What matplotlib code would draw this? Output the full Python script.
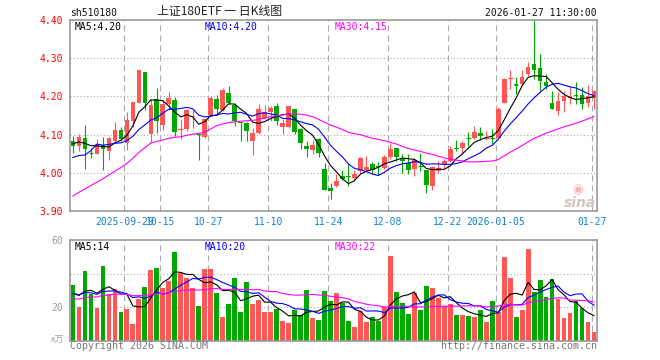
import numpy as np
import pandas as pd
import matplotlib
matplotlib.use("Agg")
import matplotlib.pyplot as plt

# ---------------- data ----------------
date_idx = [9, 15, 23, 33, 43, 53, 63, 71, 87]
date_labels = ['2025-09-29', '10-15', '10-27', '11-10', '11-24',
               '12-08', '12-22', '2026-01-05', '01-27']

open_ = [4.083, 4.070, 4.092, 4.053, 4.048, 4.074, 4.057, 4.082, 4.112, 4.078,
         4.136, 4.184, 4.263, 4.101, 4.193, 4.125, 4.180, 4.191, 4.112, 4.114,
         4.145, 4.102, 4.095, 4.151, 4.193, 4.165, 4.209, 4.177, 4.133, 4.130,
         4.083, 4.104, 4.144, 4.158, 4.174, 4.121, 4.121, 4.167, 4.114, 4.070,
         4.060, 4.088, 4.009, 3.959, 3.965, 3.991, 3.991, 3.987, 4.004, 4.007,
         4.022, 4.019, 4.013, 4.042, 4.064, 4.035, 4.026, 4.009, 4.019, 4.007,
         3.965, 4.004, 4.022, 4.031, 4.066, 4.066, 4.092, 4.092, 4.104, 4.090,
         4.092, 4.092, 4.184, 4.246, 4.232, 4.232, 4.259, 4.285, 4.274, 4.237,
         4.182, 4.162, 4.189, 4.197, 4.204, 4.204, 4.182, 4.197]
high = [4.096, 4.101, 4.125, 4.065, 4.088, 4.095, 4.095, 4.133, 4.120, 4.158,
        4.186, 4.270, 4.263, 4.193, 4.221, 4.191, 4.212, 4.199, 4.140, 4.167,
        4.165, 4.102, 4.140, 4.202, 4.204, 4.221, 4.226, 4.184, 4.133, 4.133,
        4.116, 4.180, 4.177, 4.175, 4.182, 4.140, 4.174, 4.167, 4.116, 4.083,
        4.086, 4.090, 4.025, 3.974, 3.996, 4.007, 4.022, 4.007, 4.042, 4.044,
        4.028, 4.028, 4.046, 4.077, 4.064, 4.048, 4.048, 4.040, 4.051, 4.007,
        4.018, 4.031, 4.035, 4.070, 4.086, 4.083, 4.107, 4.123, 4.121, 4.110,
        4.114, 4.171, 4.247, 4.268, 4.250, 4.270, 4.291, 4.400, 4.311, 4.259,
        4.215, 4.212, 4.215, 4.226, 4.237, 4.224, 4.230, 4.218]
low = [4.051, 4.057, 4.009, 4.038, 4.048, 4.007, 4.033, 4.079, 4.083, 4.059,
       4.121, 4.182, 4.165, 4.077, 4.105, 4.112, 4.165, 4.097, 4.088, 4.110,
       4.118, 4.033, 4.092, 4.149, 4.151, 4.162, 4.180, 4.123, 4.083, 4.083,
       4.046, 4.101, 4.140, 4.136, 4.125, 4.101, 4.116, 4.101, 4.061, 4.042,
       4.048, 4.042, 3.954, 3.932, 3.963, 3.981, 3.965, 3.981, 3.998, 4.004,
       3.996, 3.993, 4.011, 4.035, 4.031, 4.000, 3.998, 3.991, 4.004, 3.947,
       3.954, 4.000, 4.013, 4.028, 4.057, 4.051, 4.070, 4.088, 4.086, 4.086,
       4.075, 4.090, 4.182, 4.219, 4.206, 4.230, 4.254, 4.246, 4.215, 4.219,
       4.167, 4.151, 4.160, 4.180, 4.180, 4.167, 4.171, 4.167]
close_ = [4.070, 4.094, 4.061, 4.051, 4.076, 4.061, 4.090, 4.112, 4.088, 4.139,
          4.186, 4.268, 4.184, 4.177, 4.136, 4.179, 4.196, 4.107, 4.114, 4.165,
          4.149, 4.101, 4.140, 4.196, 4.167, 4.218, 4.182, 4.136, 4.130, 4.110,
          4.104, 4.167, 4.160, 4.169, 4.136, 4.130, 4.174, 4.107, 4.077, 4.063,
          4.072, 4.053, 3.956, 3.952, 3.978, 3.983, 3.988, 3.996, 4.038, 4.015,
          4.007, 4.016, 4.042, 4.061, 4.042, 4.032, 4.007, 4.033, 4.018, 3.967,
          4.016, 4.013, 4.031, 4.063, 4.061, 4.077, 4.090, 4.107, 4.097, 4.092,
          4.090, 4.167, 4.246, 4.247, 4.230, 4.250, 4.276, 4.268, 4.241, 4.226,
          4.168, 4.189, 4.202, 4.200, 4.200, 4.180, 4.200, 4.215]
volume = [33.1, 20.2, 41.5, 27.8, 19.6, 44.5, 27.8, 30.7, 17.0, 18.8,
          10.0, 24.8, 32.1, 42.3, 43.5, 31.5, 35.5, 53.0, 40.1, 37.7,
          31.3, 20.8, 42.9, 42.9, 28.8, 14.2, 21.8, 37.5, 17.2, 34.9,
          21.8, 24.6, 17.0, 17.0, 18.8, 11.6, 10.4, 18.2, 15.4, 30.1,
          13.4, 12.2, 29.6, 23.6, 28.4, 22.4, 11.6, 8.1, 17.6, 11.0,
          14.0, 11.8, 20.0, 50.4, 29.0, 22.4, 15.8, 28.4, 18.2, 32.5,
          31.3, 25.4, 20.6, 21.8, 15.2, 15.2, 14.6, 14.0, 18.2, 11.0,
          23.6, 17.0, 49.9, 37.3, 14.0, 18.2, 54.6, 29.0, 36.1, 26.0,
          36.7, 24.8, 13.4, 16.4, 23.6, 19.4, 11.0, 5.1]
# sessions before the visible window (estimated from where the MA lines start)
prior_close = [3.79, 3.80, 3.78, 3.81, 3.80, 3.79, 3.82, 3.80, 3.81, 3.79,
               3.80, 3.82, 3.80, 4.03, 4.06, 4.05, 4.04, 4.07, 4.05, 4.06,
               4.04, 4.05, 3.93, 3.91, 4.09, 4.07, 4.08, 4.08, 4.08]
prior_volume = [16, 19, 15, 18, 17, 20, 16, 18, 25, 29,
                27, 24, 30, 26, 28, 25, 27, 29, 26, 27,
                27, 30, 28, 29, 27, 26, 29, 25, 28]

ma_labels = ['MA5:4.20', 'MA10:4.20', 'MA30:4.15']
vma_labels = ['MA5:14', 'MA10:20', 'MA30:22']

# ---------------- derived ----------------
n = len(close_)
x = np.arange(n)
k = len(prior_close)
cs = pd.Series(prior_close + close_)
vs = pd.Series(prior_volume + volume)
ma = {w: cs.rolling(w).mean().to_numpy()[k:] for w in (5, 10, 30)}
vma = {w: vs.rolling(w).mean().to_numpy()[k:] for w in (5, 10, 30)}

o = np.array(open_); c = np.array(close_)
h = np.array(high); l = np.array(low); v = np.array(volume)
RED, GREEN = '#ff5656', '#00a800'
cols = np.where(c >= o, RED, GREEN)
MA_COLS = ['#000000', '#0000ff', '#ff00ff']
MONO = ['DejaVu Sans Mono', 'Noto Sans CJK SC']
CJK = ['Noto Sans CJK SC', 'DejaVu Sans']
GRID = '#aaaaaa'
FRAME = '#9a9a9a'

W, H = 660, 360
fig = plt.figure(figsize=(6.6, 3.6), dpi=100)
fig.patch.set_facecolor('white')


def rect(lf, tp, rt, bt):
    return [lf / W, 1 - bt / H, (rt - lf) / W, (bt - tp) / H]


def T(px, py, s, **kw):
    kw.setdefault('va', 'center')
    kw.setdefault('family', MONO)
    kw.setdefault('fontsize', 7)
    fig.text(px / W, 1 - py / H, s, **kw)


axp = fig.add_axes(rect(70, 20, 597, 211))
axv = fig.add_axes(rect(70, 240, 597, 341))
grid_x = [i - 0.4 for i in date_idx]

for ax in (axp, axv):
    ax.set_xlim(-0.5, n - 0.5)
    for s in ax.spines.values():
        s.set_color(FRAME)
        s.set_linewidth(1.2)
    for gx in grid_x:
        ax.axvline(gx, color=GRID, lw=0.8, ls=(0, (5.5, 3.5)), zorder=0.5)

# ---- price panel ----
axp.set_ylim(3.90, 4.40)
for gy in (4.0, 4.1, 4.2, 4.3):
    axp.axhline(gy, color=GRID, lw=0.8, ls=(0, (1, 2)), zorder=0.5)
axp.vlines(x, l, h, colors=cols, linewidth=0.8, zorder=2)
body = np.abs(c - o)
axp.bar(x, body, bottom=np.minimum(o, c), width=0.78, color=cols,
        linewidth=0, zorder=2.1)
doji = body < 0.002
axp.hlines(c[doji], x[doji] - 0.39, x[doji] + 0.39, colors=cols[doji],
           linewidth=0.9, zorder=2.1)
for w, col in zip((5, 10, 30), MA_COLS):
    axp.plot(x, ma[w], color=col, lw=0.8, zorder=3)

yt = [3.90, 4.00, 4.10, 4.20, 4.30, 4.40]
axp.set_yticks(yt)
axp.set_yticklabels(['%.2f' % t for t in yt])
axp.tick_params(axis='y', length=0, pad=5, labelcolor='#ff0000', labelsize=7)
axp.set_xticks(grid_x)
axp.set_xticklabels(date_labels)
axp.tick_params(axis='x', length=0, pad=4, labelcolor='#1181d2', labelsize=7)
for lab in axp.get_xticklabels() + axp.get_yticklabels():
    lab.set_family(MONO)

# ---- volume panel ----
axv.set_ylim(0, 60)
for gy in (20, 40):
    axv.axhline(gy, color=GRID, lw=0.8, ls=(0, (1, 2)), zorder=0.5)
axv.bar(x, v, width=0.8, color=cols, linewidth=0, zorder=2)
for w, col in zip((5, 10, 30), MA_COLS):
    axv.plot(x, vma[w], color=col, lw=0.8, zorder=3)
axv.set_xticks([])
axv.set_yticks([20, 60])
axv.set_yticklabels(['20', '60'])
axv.tick_params(axis='y', length=0, pad=5, labelcolor='#a0a0a0', labelsize=7)
for lab in axv.get_yticklabels():
    lab.set_family(MONO)

# ---- texts ----
T(70, 13, 'sh510180', color='#111111')
T(220, 12, '上证180ETF 一 日K线图', ha='center', family=CJK, fontsize=8.6,
  color='#222222')
T(597, 13, '2026-01-27 11:30:00', ha='right', color='#111111')
for px, s, col in zip((75, 205, 335), ma_labels, MA_COLS):
    T(px, 26.5, s, color=col)
for px, s, col in zip((75, 205, 335), vma_labels, MA_COLS):
    T(px, 247, s, color=col)
T(64, 340, 'x万', ha='right', family=CJK, fontsize=6.5, color='#a0a0a0')
T(70, 346, 'Copyright 2026 SINA.COM', color='#777777', fontsize=7.2)
T(597, 346, 'http://finance.sina.com.cn', ha='right', color='#777777',
  fontsize=7.2)
T(596, 203, 'sina', ha='right', family=['DejaVu Sans'], fontsize=10,
  fontweight='bold', style='italic', color='#d4c4c4')
T(578, 190, '◉', ha='center', family=['DejaVu Sans'], fontsize=9,
  color='#f2b8b8')

fig.savefig('out.png', dpi=100)
